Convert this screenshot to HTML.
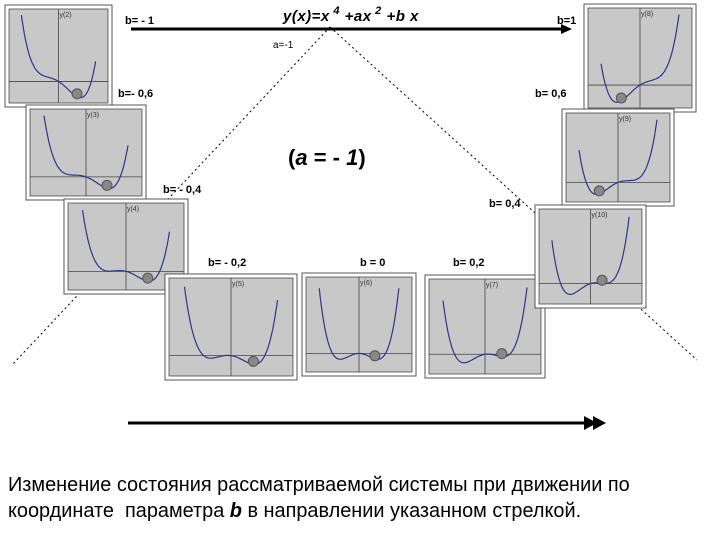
<!DOCTYPE html>
<html><head><meta charset="utf-8"><style>
body{margin:0;background:#fff;width:720px;height:540px;overflow:hidden;font-family:"Liberation Sans",sans-serif}
</style></head><body>
<svg id="s" width="720" height="540" xmlns="http://www.w3.org/2000/svg" font-family="Liberation Sans, sans-serif">
<line x1="330" y1="27" x2="12" y2="365" stroke="#000" stroke-dasharray="2,3" stroke-width="1"/>
<line x1="330" y1="27" x2="697" y2="360" stroke="#000" stroke-dasharray="2,3" stroke-width="1"/>
<line x1="131" y1="29" x2="565" y2="29" stroke="#000" stroke-width="3"/>
<polygon points="561,24 572,29 561,34" fill="#000"/>
<text x="283" y="21" font-size="15" font-weight="bold" font-style="italic" letter-spacing="0.5">y(x)=x<tspan dy="-7" font-size="11"> 4</tspan><tspan dy="7"> +ax</tspan><tspan dy="-7" font-size="11"> 2</tspan><tspan dy="7"> +b x</tspan></text>
<text x="273" y="48" font-size="10">a=-1</text>
<text x="125" y="24" font-size="11" font-weight="bold">b= - 1</text>
<text x="557" y="24" font-size="11" font-weight="bold">b=1</text>
<text x="118" y="97" font-size="11" font-weight="bold">b=- 0,6</text>
<text x="535" y="97" font-size="11" font-weight="bold">b= 0,6</text>
<text x="163" y="193" font-size="11" font-weight="bold">b= - 0,4</text>
<text x="489" y="207" font-size="11" font-weight="bold">b= 0,4</text>
<text x="208" y="266" font-size="11" font-weight="bold">b= - 0,2</text>
<text x="360" y="266" font-size="11" font-weight="bold">b = 0</text>
<text x="453" y="266" font-size="11" font-weight="bold">b= 0,2</text>
<text x="288" y="165" font-size="22" font-weight="bold">(<tspan font-style="italic">a</tspan> = - <tspan font-style="italic">1</tspan>)</text>
<line x1="128" y1="423" x2="590" y2="423" stroke="#000" stroke-width="3"/>
<polygon points="584,416 597,423 584,430" fill="#000"/>
<polygon points="593,416 606,423 593,430" fill="#000"/>
<g id="plots"></g>
</svg>
<div style="position:absolute;left:8px;top:472px;font-size:19.9px;line-height:26px;color:#000;white-space:nowrap">Изменение состояния рассматриваемой системы при движении по<br>координате&nbsp; параметра <b><i>b</i></b> в направлении указанном стрелкой.</div>
<script>
var P=[[5,5,112,107,-1],[26,105,146,200,-0.6],[64,199,188,294,-0.4],[165,274,297,380,-0.2],[302,273,416,376,0],[425,275,545,378,0.2],[584,4,696,112,1],[562,109,674,206,0.6],[535,205,646,308,0.4]];
var g=document.getElementById('plots'),h='';
P.forEach(function(p,i){
var x0=p[0],y0=p[1],x1=p[2],y1=p[3],b=p[4];
var ix0=x0+4,iy0=y0+4,ix1=x1-4,iy1=y1-4,w=ix1-ix0,hh=iy1-iy0;
var top=Math.max(2.9,2.81+Math.abs(b)*1.5)+0.4,bot=-0.8-Math.abs(b)*0.6;
function X(x){return ix0+(x+2)/4*w}function Y(y){return iy0+(top-y)/(top-bot)*hh}
h+='<rect x="'+x0+'" y="'+y0+'" width="'+(x1-x0)+'" height="'+(y1-y0)+'" fill="#fff" stroke="#555"/>';
h+='<rect x="'+ix0+'" y="'+iy0+'" width="'+w+'" height="'+hh+'" fill="#c8c8c8" stroke="#333" stroke-width="0.7"/>';
h+='<line x1="'+ix0+'" y1="'+Y(0)+'" x2="'+ix1+'" y2="'+Y(0)+'" stroke="#444" stroke-width="0.8"/>';
h+='<line x1="'+X(0)+'" y1="'+iy0+'" x2="'+X(0)+'" y2="'+iy1+'" stroke="#444" stroke-width="0.8"/>';
var d='',f=function(x){return x*x*x*x-x*x+b*x};
for(var x=-1.5;x<=1.5001;x+=0.03){var y=Math.min(f(x),top-0.3);d+=(d?'L':'M')+X(x).toFixed(1)+' '+Y(y).toFixed(1);}
h+='<path d="'+d+'" fill="none" stroke="#33338a" stroke-width="1.2"/>';
var bx=b<0?0.75:(b>0?-0.72:0.6);if(b==0.2)bx=0.6;if(b==0.4)bx=0.45;if(b==-0.2)bx=0.72;
h+='<circle cx="'+X(bx)+'" cy="'+(Y(f(bx))-3)+'" r="5" fill="#888" stroke="#555"/>';
h+='<text x="'+(X(0)+1)+'" y="'+(iy0+8)+'" font-size="7" fill="#333">y('+(i+2)+')</text>';
});
g.innerHTML=h;
</script>
</body></html>
